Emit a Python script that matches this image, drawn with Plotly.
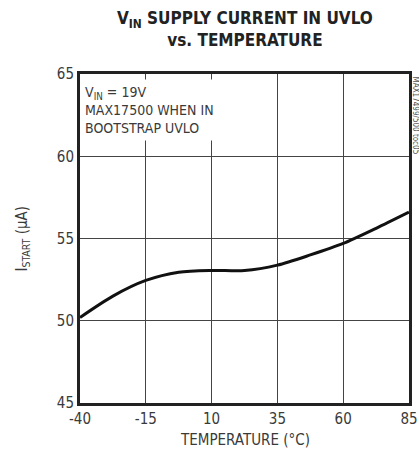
import plotly.graph_objects as go

temps = [-40, -27.5, -15, -2.5, 10, 22.5, 35, 47.5, 60, 72.5, 85]
current = [50.2, 51.5, 52.45, 52.95, 53.06, 53.05, 53.38, 54.0, 54.7, 55.62, 56.6]
x_ticks = [-40, -15, 10, 35, 60, 85]
y_ticks = [45, 50, 55, 60, 65]

FONT = "Liberation Sans Narrow, DejaVu Sans Condensed, Liberation Sans, sans-serif"
GRAY = "#3a3a3a"

fig = go.Figure()
fig.add_trace(go.Scatter(x=temps, y=current, mode="lines",
                         line=dict(color="#111", width=3, shape="spline", smoothing=0.8),
                         hoverinfo="skip"))

fig.update_layout(
    width=419, height=459,
    margin=dict(l=80, r=10, t=74, b=56, autoexpand=False),
    paper_bgcolor="white", plot_bgcolor="white",
    showlegend=False,
    font=dict(family=FONT, color=GRAY, size=15),
)
fig.update_xaxes(range=[-40, 85], tickvals=x_ticks, ticktext=[str(v) for v in x_ticks],
                 showgrid=True, gridcolor="#444", gridwidth=1, zeroline=False,
                 showline=True, mirror=True, linecolor="#222", linewidth=3,
                 ticks="", automargin=False, tickfont=dict(size=15, color=GRAY))
fig.update_yaxes(range=[45, 65], tickvals=y_ticks, ticktext=[str(v) for v in y_ticks],
                 showgrid=True, gridcolor="#444", gridwidth=1, zeroline=False,
                 showline=True, mirror=True, linecolor="#222", linewidth=3,
                 ticks="", automargin=False, tickfont=dict(size=15, color=GRAY))

fig.add_annotation(text="<b>V<sub>IN</sub> SUPPLY CURRENT IN UVLO<br>vs. TEMPERATURE</b>",
                   xref="paper", yref="paper", x=0.5, y=1.0, yshift=22,
                   xanchor="center", yanchor="bottom", showarrow=False,
                   font=dict(size=17, color="#222"))
fig.add_annotation(text="V<sub>IN</sub> = 19V<br>MAX17500 WHEN IN<br>BOOTSTRAP UVLO",
                   xref="paper", yref="paper", x=0.0, y=0.985, xanchor="left", yanchor="top",
                   align="left", showarrow=False, bgcolor="white", borderpad=4,
                   font=dict(size=14, color=GRAY))
fig.add_annotation(text="TEMPERATURE (°C)", xref="paper", yref="paper", x=0.5, y=-0.112,
                   xanchor="center", yanchor="middle", showarrow=False,
                   font=dict(size=15, color=GRAY))
fig.add_annotation(text="I<sub>START</sub> (µA)", xref="paper", yref="paper", x=-0.176, y=0.5,
                   xanchor="center", yanchor="middle", textangle=-90, showarrow=False,
                   font=dict(size=15, color=GRAY))
fig.add_annotation(text="MAX17499/500 toc05", xref="paper", yref="paper", x=1.0, y=1.0,
                   xanchor="left", yanchor="top", textangle=90, showarrow=False,
                   xshift=0, font=dict(size=8, color="#555"))

fig.write_html("out.html", config={"displayModeBar": False},
               post_script="document.body.style.margin='0';")
